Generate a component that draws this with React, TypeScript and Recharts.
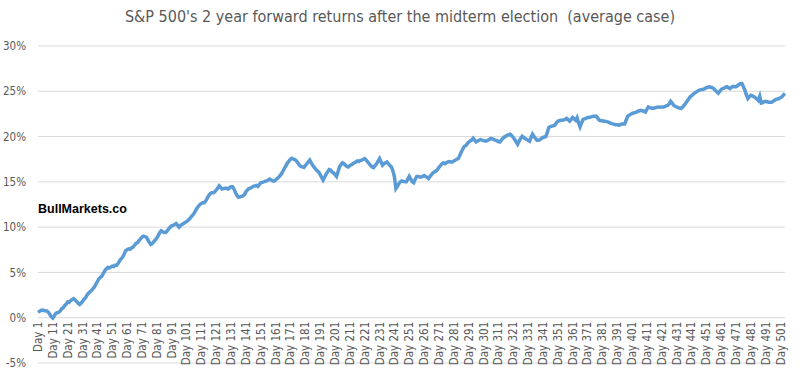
import { CartesianGrid, Line, LineChart, XAxis, YAxis } from "recharts";

const CHART_WIDTH = 800;
const CHART_HEIGHT = 374;
const MARGIN = { top: 46, right: 15, bottom: 10, left: 0 };
const X_AXIS_HEIGHT = 1;
const PLOT_HEIGHT = CHART_HEIGHT - MARGIN.top - MARGIN.bottom - X_AXIS_HEIGHT;
const LINE_COLOR = "#5b9bd5";
const GRID_COLOR = "#d9d9d9";
const LABEL_COLOR = "#595959";
const FONT = "'Liberation Sans Narrow', 'DejaVu Sans Condensed', 'Liberation Sans', sans-serif";

const TITLE = "S&P 500's 2 year forward returns after the midterm election  (average case)";
const WATERMARK = "BullMarkets.co";

const yTicks = [-5, 0, 5, 10, 15, 20, 25, 30];

// average S&P 500 return (%) on each trading day after the midterm election
const returns = [
  0.6, 0.7, 0.8, 0.85, 0.8, 0.77, 0.75, 0.6, 0.35, 0.1,
  -0.05, 0.2, 0.48, 0.55, 0.6, 0.75, 1.0, 1.1, 1.35, 1.5,
  1.76, 1.7, 1.9, 2.0, 2.1, 1.95, 1.8, 1.6, 1.47, 1.6,
  1.8, 2.06, 2.2, 2.5, 2.7, 2.87, 3.0, 3.2, 3.4, 3.7,
  4.0, 4.3, 4.45, 4.6, 4.9, 5.2, 5.4, 5.55, 5.5, 5.6,
  5.7, 5.65, 5.8, 5.8, 6.0, 6.3, 6.5, 6.7, 7.0, 7.4,
  7.5, 7.6, 7.55, 7.7, 7.8, 8.0, 8.2, 8.3, 8.5, 8.7,
  8.9, 9.0, 8.95, 8.9, 8.6, 8.3, 8.1, 8.2, 8.4, 8.6,
  8.8, 9.1, 9.4, 9.6, 9.5, 9.4, 9.4, 9.6, 9.8, 10.0,
  10.15, 10.2, 10.3, 10.4, 10.2, 10.0, 10.2, 10.3, 10.4, 10.5,
  10.6, 10.75, 10.9, 11.1, 11.3, 11.5, 11.8, 12.1, 12.3, 12.5,
  12.6, 12.7, 12.7, 12.9, 13.2, 13.5, 13.7, 13.8, 13.8, 13.9,
  14.1, 14.3, 14.56, 14.4, 14.2, 14.25, 14.3, 14.3, 14.2, 14.35,
  14.45, 14.45, 14.2, 13.8, 13.5, 13.3, 13.35, 13.4, 13.45, 13.6,
  13.9, 14.1, 14.26, 14.3, 14.4, 14.5, 14.56, 14.6, 14.5, 14.7,
  14.9, 14.95, 15.0, 15.07, 15.1, 15.2, 15.3, 15.2, 15.1, 15.07,
  15.2, 15.37, 15.5, 15.7, 15.9, 16.2, 16.5, 16.8, 17.1, 17.3,
  17.5, 17.6, 17.5, 17.46, 17.3, 17.1, 16.84, 16.7, 16.65, 16.6,
  16.8, 17.0, 17.2, 17.4, 17.1, 16.84, 16.6, 16.4, 16.2, 16.1,
  15.8, 15.5, 15.2, 15.5, 15.85, 16.1, 16.36, 16.3, 16.1, 16.0,
  15.8, 15.6, 16.1, 16.65, 16.9, 17.1, 17.0, 16.85, 16.7, 16.65,
  16.8, 16.9, 17.0, 17.1, 17.2, 17.3, 17.25, 17.35, 17.4, 17.5,
  17.57, 17.4, 17.2, 17.0, 16.8, 16.65, 16.58, 16.8, 17.0, 17.3,
  17.57, 17.2, 16.84, 17.0, 17.1, 17.2, 17.0, 16.8, 16.65, 16.2,
  15.55, 14.26, 14.5, 14.8, 15.0, 15.1, 15.05, 15.0, 15.0, 15.3,
  15.6, 15.3, 15.0, 14.9, 15.3, 15.6, 15.6, 15.55, 15.55, 15.6,
  15.7, 15.6, 15.5, 15.37, 15.6, 15.8, 16.0, 16.1, 16.2, 16.36,
  16.6, 16.8, 17.0, 17.1, 17.0, 17.1, 17.2, 17.25, 17.2, 17.2,
  17.3, 17.4, 17.5, 17.57, 17.9, 18.3, 18.6, 18.9, 19.0, 19.2,
  19.4, 19.5, 19.6, 19.8, 19.6, 19.4, 19.5, 19.6, 19.67, 19.6,
  19.55, 19.5, 19.5, 19.6, 19.7, 19.8, 19.75, 19.65, 19.6, 19.55,
  19.45, 19.4, 19.6, 19.8, 19.96, 20.05, 20.15, 20.2, 20.26, 20.1,
  19.9, 19.67, 19.4, 19.15, 19.5, 19.8, 20.03, 19.9, 19.8, 19.67,
  19.6, 19.5, 19.9, 20.26, 20.0, 19.8, 19.6, 19.6, 19.65, 19.8,
  19.9, 19.95, 20.0, 20.5, 21.0, 21.1, 21.15, 21.2, 21.25, 21.5,
  21.7, 21.75, 21.8, 21.8, 21.85, 21.9, 22.0, 21.85, 21.7, 21.9,
  22.1, 21.95, 21.8, 22.1, 21.5, 21.07, 21.5, 21.9, 21.95, 22.0,
  22.1, 22.1, 22.15, 22.2, 22.24, 22.24, 22.24, 22.0, 21.8, 21.75,
  21.75, 21.7, 21.7, 21.65, 21.6, 21.5, 21.45, 21.4, 21.36, 21.3,
  21.3, 21.25, 21.3, 21.4, 21.4, 21.4, 21.8, 22.24, 22.35, 22.45,
  22.55, 22.6, 22.65, 22.7, 22.8, 22.85, 22.9, 22.85, 22.8, 22.7,
  23.0, 23.27, 23.2, 23.15, 23.1, 23.15, 23.2, 23.25, 23.27, 23.25,
  23.27, 23.27, 23.3, 23.4, 23.45, 23.6, 23.9, 23.7, 23.45, 23.35,
  23.27, 23.2, 23.15, 23.1, 23.25, 23.45, 23.65, 23.9, 24.1, 24.37,
  24.5, 24.65, 24.8, 24.9, 25.0, 25.1, 25.15, 25.2, 25.2, 25.3,
  25.4, 25.45, 25.5, 25.45, 25.4, 25.3, 25.1, 24.95, 24.8, 25.0,
  25.2, 25.3, 25.35, 25.45, 25.5, 25.4, 25.3, 25.45, 25.55, 25.5,
  25.5, 25.6, 25.75, 25.85, 25.85, 25.5, 25.1, 24.6, 24.2, 24.4,
  24.56, 24.5, 24.4, 24.3, 24.15, 24.0, 24.45, 23.7, 23.75, 23.85,
  23.9, 23.85, 23.8, 23.8, 23.8, 23.9, 24.0, 24.1, 24.15, 24.2,
  24.3, 24.4, 24.6, 24.75,
];

const data = returns.map((value, i) => ({ day: `Day ${i + 1}`, value }));

// Excel draws the category labels at the 0% line, not at the bottom of the plot
const ZERO_TO_BOTTOM = (PLOT_HEIGHT * 5) / 35;

function DayTick(props: any) {
  const { x, y, payload } = props;
  const ty = y - ZERO_TO_BOTTOM + 4;
  return (
    <text x={x} y={ty} transform={`rotate(-90, ${x}, ${ty})`} textAnchor="end" dominantBaseline="central" fill={LABEL_COLOR} fontSize={11.5} fontFamily={FONT}>
      {payload.value}
    </text>
  );
}

export default function App(): React.ReactElement {
  return (
    <div style={{ position: "absolute", left: 0, top: 0, width: CHART_WIDTH, height: CHART_HEIGHT, background: "#fff" }}>
      <div style={{ position: "absolute", top: 7, left: 0, width: CHART_WIDTH, textAlign: "center", whiteSpace: "pre", fontFamily: FONT, fontSize: 16, color: LABEL_COLOR }}>
        {TITLE}
      </div>
      <div style={{ position: "absolute", top: 202, left: 38, fontFamily: "'Liberation Sans', Arial, sans-serif", fontWeight: "bold", fontSize: 12.5, color: "#000" }}>
        {WATERMARK}
      </div>
      <LineChart width={CHART_WIDTH} height={CHART_HEIGHT} data={data} margin={MARGIN}>
        <CartesianGrid stroke={GRID_COLOR} vertical={false} />
        <XAxis dataKey="day" height={X_AXIS_HEIGHT} interval={9} axisLine={false} tickLine={false} tickSize={0} tickMargin={0} tick={DayTick} />
        <YAxis
          domain={[-5, 30]}
          ticks={yTicks}
          width={38}
          axisLine={false}
          tickLine={false}
          tickSize={0}
          tickMargin={12}
          tickFormatter={(v: number) => `${v}%`}
          tick={{ fill: LABEL_COLOR, fontSize: 11.5, fontFamily: FONT }}
        />
        <Line type="linear" dataKey="value" stroke={LINE_COLOR} strokeWidth={3.5} dot={false} isAnimationActive={false} />
      </LineChart>
    </div>
  );
}
